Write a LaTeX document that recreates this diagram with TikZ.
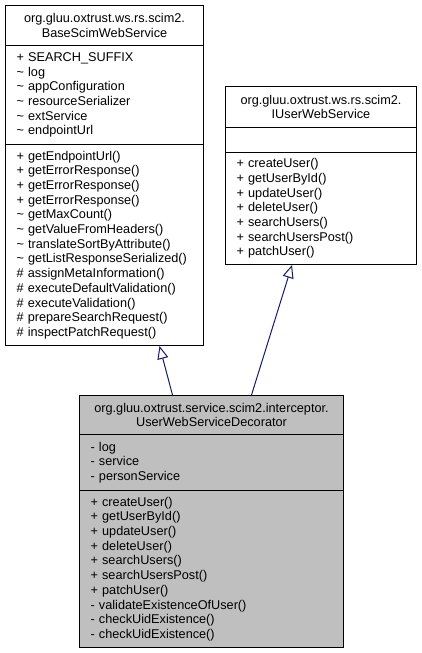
\documentclass[tikz,border=0pt]{standalone}
\usepackage{fontspec}
\setmainfont{Liberation Sans}
\usetikzlibrary{arrows.meta}
\definecolor{edgeblue}{HTML}{191970}
\tikzset{
  umlpart/.style={draw=black, line width=1pt, anchor=north west, inner xsep=11pt, inner ysep=2pt,
    align=left, font=\fontsize{12.7}{14.7}\selectfont},
  umltitle/.style={umlpart, align=center},
  inherit/.style={draw=edgeblue, line width=1pt, -{Triangle[open, length=13pt, width=11pt]}}
}
\begin{document}
\begin{tikzpicture}[x=1pt, y=-1pt]
    \useasboundingbox (0,0) rectangle (421,653);

    % Base class
    \node[umltitle, text width=176pt, minimum height=40pt] (base title) at (5,5)
        {org.gluu.oxtrust.ws.rs.scim2.\\BaseScimWebService};
    \node[umlpart, text width=176pt, minimum height=99pt] (base attrs) at (5,45)
        {+ SEARCH\_SUFFIX\\\textasciitilde{} log\\\textasciitilde{} appConfiguration\\\textasciitilde{} resourceSerializer\\\textasciitilde{} extService\\\textasciitilde{} endpointUrl};
    \node[umlpart, text width=176pt, minimum height=201pt] (base ops) at (5,144)
        {+ getEndpointUrl()\\+ getErrorResponse()\\+ getErrorResponse()\\+ getErrorResponse()\\\textasciitilde{} getMaxCount()\\\textasciitilde{} getValueFromHeaders()\\\textasciitilde{} translateSortByAttribute()\\\textasciitilde{} getListResponseSerialized()\\\# assignMetaInformation()\\\# executeDefaultValidation()\\\# executeValidation()\\\# prepareSearchRequest()\\\# inspectPatchRequest()};

    % Interface
    \node[umltitle, text width=169pt, minimum height=41pt] (iface title) at (225,86)
        {org.gluu.oxtrust.ws.rs.scim2.\\IUserWebService};
    \node[umlpart, text width=169pt, minimum height=25pt] (iface attrs) at (225,127) {};
    \node[umlpart, text width=169pt, minimum height=112pt] (iface ops) at (225,152)
        {+ createUser()\\+ getUserById()\\+ updateUser()\\+ deleteUser()\\+ searchUsers()\\+ searchUsersPost()\\+ patchUser()};

    % Decorator
    \node[umltitle, fill=gray!50, text width=242pt, minimum height=39pt] (deco title) at (79,395)
        {org.gluu.oxtrust.service.scim2.interceptor.\\UserWebServiceDecorator};
    \node[umlpart, fill=gray!50, text width=242pt, minimum height=56pt] (deco attrs) at (79,434)
        {- log\\- service\\- personService};
    \node[umlpart, fill=gray!50, text width=242pt, minimum height=157pt] (deco ops) at (79,490)
        {+ createUser()\\+ getUserById()\\+ updateUser()\\+ deleteUser()\\+ searchUsers()\\+ searchUsersPost()\\+ patchUser()\\- validateExistenceOfUser()\\- checkUidExistence()\\- checkUidExistence()};

    \draw[inherit] ([xshift=-39pt]deco title.north) -- ([xshift=55pt]base ops.south);
    \draw[inherit] ([xshift=40pt]deco title.north) -- ([xshift=-29pt]iface ops.south);
\end{tikzpicture}
\end{document}
